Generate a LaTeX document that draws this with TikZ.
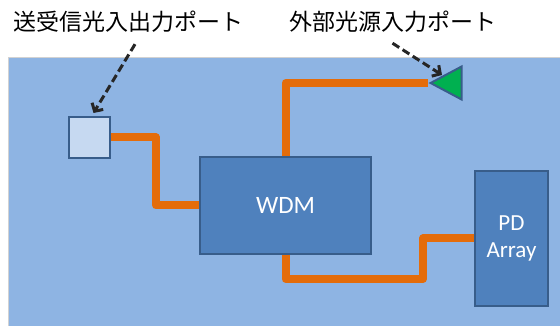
\documentclass[tikz,border=0pt]{standalone}
\usepackage{fontspec}
\setmainfont{Carlito}
\newfontfamily\jpfont{Noto Sans CJK JP}
\usetikzlibrary{arrows.meta,shapes.geometric}
\usepackage{xcolor}
\definecolor{panelblue}{HTML}{8EB4E3}
\definecolor{boxblue}{HTML}{4F81BD}
\definecolor{boxedge}{HTML}{385D8A}
\definecolor{portpale}{HTML}{C6D9F1}
\definecolor{portgreen}{HTML}{00B050}
\definecolor{fiberorange}{HTML}{E46C0A}

\begin{document}
\begin{tikzpicture}[
            x=1pt, y=1pt,
            block/.style={rectangle, draw=boxedge, line width=2pt, fill=boxblue, text=white, align=center, inner sep=0pt},
            port/.style={draw=boxedge, line width=2pt, inner sep=0pt},
            portlabel/.style={font=\jpfont\fontsize{23}{26}\selectfont, text height=18pt, text depth=4pt, inner sep=0pt},
            fiber/.style={draw=fiberorange, line width=8pt, line join=round},
            callout/.style={draw=black!85, line width=3pt, dash pattern=on 8pt off 4pt, -{Straight Barb[length=6pt, width=13pt]}}
        ]
            \useasboundingbox (0,0) rectangle (560,326);

            % --- FUNDO ---
            \fill[panelblue] (8,0) rectangle (560,269);
            \draw[gray!35, line width=0.8pt] (8,0) -- (8,269) -- (560,269);

            % --- BLOCOS ---
            \node[block, minimum width=171, minimum height=97, font=\fontsize{25}{28}\selectfont] (wdm) at (285.5,120.5) {WDM};
            \node[block, minimum width=73, minimum height=135, font=\fontsize{23}{27}\selectfont] (pd) at (511.5,87.5) {PD\\Array};

            % --- PORTAS ---
            \node[port, fill=portpale, rectangle, minimum width=41, minimum height=41] (trxport) at (89.5,188.5) {};
            \node[port, fill=portgreen, isosceles triangle, isosceles triangle stretches, shape border rotate=180, minimum width=33, minimum height=31, anchor=apex] (srcport) at (428,243) {};

            % --- TEXTOS ---
            \node[portlabel] (lbltrx) at (128.5,302) {送受信光入出力ポート};
            \node[portlabel] (lblsrc) at (392.5,302) {外部光源入力ポート};

            % Fibras entre as portas e os blocos
            \coordinate (bend) at (423,47);
            \draw[fiber] (trxport.east) -- ++(45,0) |- (wdm.west);
            \draw[fiber] (wdm.north) |- (srcport.apex);
            \draw[fiber] (wdm.south) |- (bend) |- (pd.west);

            % Setas tracejadas dos textos para as portas
            \draw[callout] ([xshift=6.5pt, yshift=-9pt]lbltrx.south) -- ([xshift=4pt, yshift=3pt]trxport.north);
            \draw[callout] ([yshift=-8pt]lblsrc.south) -- ([xshift=14pt, yshift=8pt]srcport.apex);

        \end{tikzpicture}
\end{document}
